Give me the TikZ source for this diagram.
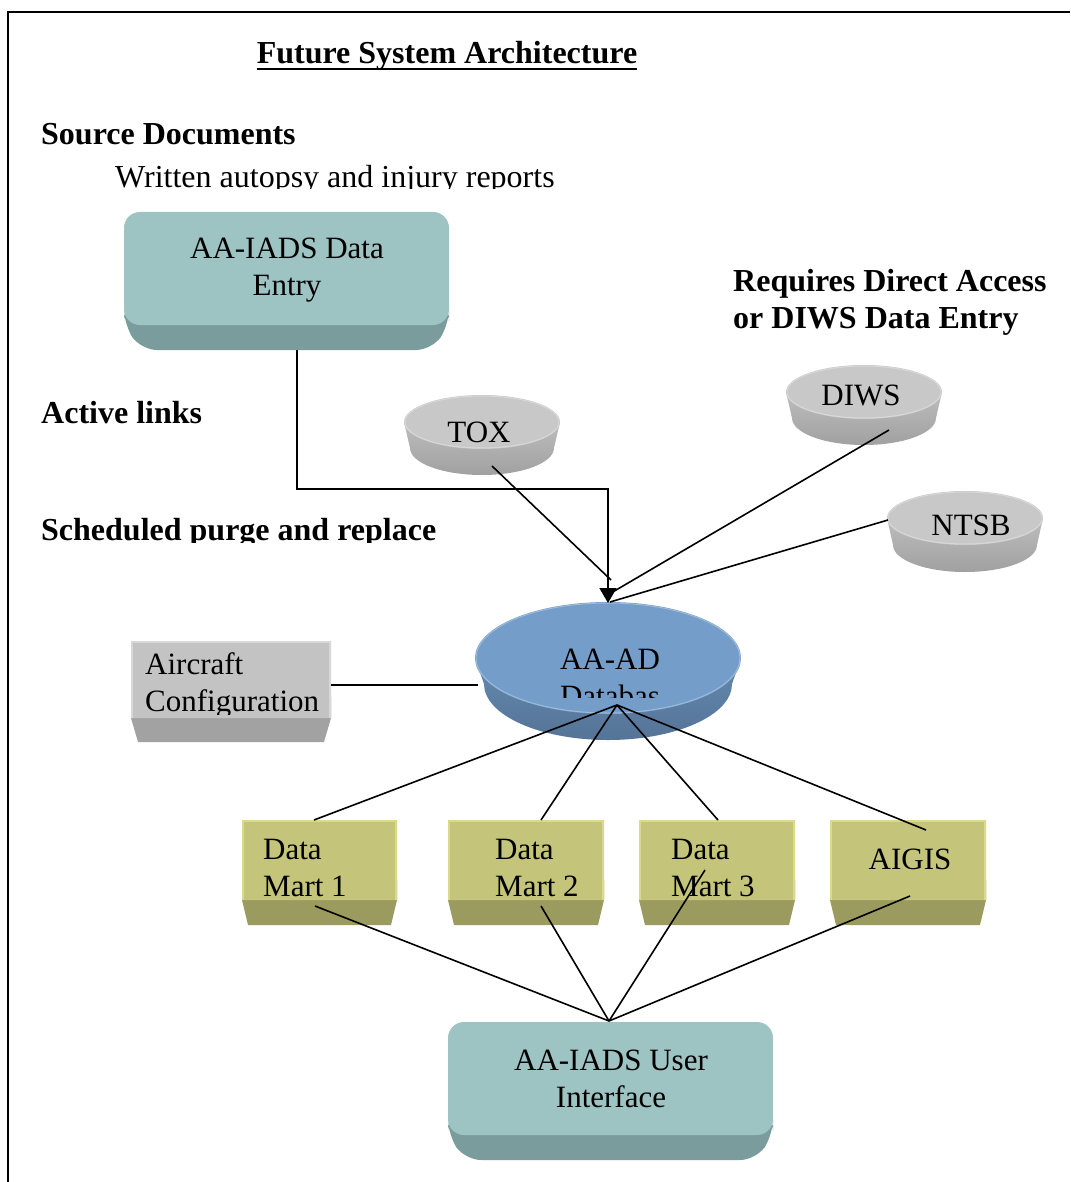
\documentclass[tikz,border=0pt]{standalone}
\usepackage{fontspec}
\setmainfont{Liberation Serif}
\usetikzlibrary{arrows.meta}
\definecolor{tealtop}{HTML}{9DC3C3}
\definecolor{tealside}{HTML}{7B9C9C}
\definecolor{oltop}{HTML}{C4C47A}
\definecolor{olside}{HTML}{9B9B5F}
\definecolor{olrim}{HTML}{DADA8C}
\definecolor{grtop}{HTML}{C3C3C3}
\definecolor{grrim}{HTML}{D8D8D8}
\definecolor{grside}{HTML}{A2A2A2}
\definecolor{cyltop}{HTML}{C8C8C8}
\definecolor{cylside}{HTML}{BDBDBD}
\definecolor{dbtop}{HTML}{749EC9}
\definecolor{dbside}{HTML}{6489B1}
% x1 y1 x2 y2 inset depth top side radius
\newcommand\slab[9]{%
  \fill[#8, rounded corners=#9] (#1,#4-20) -- (#3,#4-20) -- (#3,#4) -- (#3-#5,#4+#6) -- (#1+#5,#4+#6) -- (#1,#4) -- cycle;
  \fill[#7, rounded corners=#9] (#1,#2) rectangle (#3,#4);}
% cx cy rx ry d rx2 top side
\newcommand\cyl[8]{%
  \shade[top color=#8, bottom color=#8!85!black] (#1-#3,#2) -- (#1-#6,#2+#5) arc[start angle=180,end angle=0,x radius=#6,y radius=#4] -- (#1+#3,#2) -- cycle;
  \fill[#7] (#1,#2) ellipse[x radius=#3, y radius=#4];
  \draw[#7!70!white, line width=1] (#1,#2) ellipse[x radius=#3-1, y radius=#4-1];}
\begin{document}
\begin{tikzpicture}[x=1pt,y=-1pt,
  hd/.style={font=\bfseries\fontsize{32}{37}\selectfont, inner sep=0pt, anchor=base west},
  bodytxt/.style={font=\fontsize{31}{37}\selectfont, inner sep=0pt},
  conn/.style={line width=1.6pt, black},
  arr/.style={-{Triangle[length=15pt,width=17pt]}}]
\useasboundingbox (0,0) rectangle (1070,1182);
\fill[white] (0,0) rectangle (1070,1182);
% frame
\draw[line width=2pt] (8,1182) -- (8,12) -- (1070,12);

% headings
\node[hd, anchor=base] (title) at (447,64) {Future System Architecture};
\draw[line width=2.5pt] ([yshift=-5pt]title.base west) -- ([yshift=-5pt]title.base east);
\node[hd] (srcdoc) at (41,145) {Source Documents};
\begin{scope}
  \clip (100,150) rectangle (600,189);
  \node[bodytxt, font=\fontsize{32}{37}\selectfont, anchor=base west] (written) at (115,188) {Written autopsy and injury reports};
\end{scope}
\node[hd] (active) at (41,423) {Active links};
\begin{scope}
  \clip (30,500) rectangle (460,542);
  \node[hd] (sched) at (41,540) {Scheduled purge and replace};
\end{scope}
\node[hd, align=left, anchor=west] (requires) at (733,302) {Requires Direct Access\\or DIWS Data Entry};

% boxes
\slab{124}{212}{449}{325}{17}{25}{tealtop}{tealside}{16}
\node[bodytxt, align=center] (entry) at (287,270) {AA-IADS Data\\Entry};

\slab{448}{1022}{773}{1135}{17}{25}{tealtop}{tealside}{16}
\node[bodytxt, align=center] (ui) at (611,1079) {AA-IADS User\\Interface};

\slab{131}{641}{331}{718}{7}{24}{grtop}{grside}{0.1}
\draw[grrim, line width=2pt] (132,718) -- (132,642) -- (330,642) -- (330,718);
\begin{scope}
  \clip (131,641) rectangle (331,714);
  \node[bodytxt, align=left, anchor=west] (aircraft) at (145,685) {Aircraft\\Configuration};
\end{scope}

\foreach \xa/\xb in {242/397, 448/604, 639/795, 830/986} {
  \slab{\xa}{820}{\xb}{900}{6}{25}{oltop}{olside}{0.1}
  \draw[olrim, line width=2pt] (\xa+1,900) -- (\xa+1,821) -- (\xb-1,821) -- (\xb-1,900);
}
\node[bodytxt, align=left, anchor=west] (dm1) at (263,868) {Data\\Mart 1};
\node[bodytxt, align=left, anchor=west] (dm2) at (495,868) {Data\\Mart 2};
\node[bodytxt, align=left, anchor=west] (dm3) at (671,868) {Data\\Mart 3};
\node[bodytxt] (aigis) at (910,859) {AIGIS};

% cylinders
\cyl{482}{422}{78}{27}{26}{72}{cyltop}{cylside}
\node[bodytxt] (tox) at (479,432) {TOX};
\cyl{864}{392}{78}{27}{26}{72}{cyltop}{cylside}
\node[bodytxt] (diws) at (861,395) {DIWS};
\cyl{965}{518}{78}{27}{27}{72}{cyltop}{cylside}
\node[bodytxt] (ntsb) at (971,525) {NTSB};

\cyl{608}{658}{133}{56}{26}{124}{dbtop}{dbside}
\begin{scope}
  \clip (540,600) rectangle (680,697);
  \node[bodytxt, align=center] (db) at (610,678) {AA-AD\\Databas};
\end{scope}

% connector points
\coordinate (entrybot) at (297,350);
\coordinate (elbow) at (608,489);
\coordinate (dbtopc) at (608,603);
\coordinate (toxp) at (492,466);
\coordinate (toxend) at (611,580);
\coordinate (diwsp) at (889,430);
\coordinate (diwsend) at (611,593);
\coordinate (ntsbp) at (888,520);
\coordinate (ntsbend) at (610,602);
\coordinate (acp) at (331,685);
\coordinate (dbleft) at (478,685);
\coordinate (hub) at (617,705);
\coordinate (dm1t) at (314,820);
\coordinate (dm2t) at (541,820);
\coordinate (dm3t) at (718,820);
\coordinate (aigt) at (926,830);
\coordinate (uitop) at (609,1021);
\coordinate (dm1b) at (315,906);
\coordinate (dm2b) at (541,906);
\coordinate (dm3b) at (705,870);
\coordinate (aigb) at (910,896);

% connectors
\draw[conn, arr] (entrybot) |- (elbow) -- (dbtopc);
\draw[conn] (toxp) -- (toxend);
\draw[conn] (diwsp) -- (diwsend);
\draw[conn] (ntsbp) -- (ntsbend);
\draw[conn] (acp) -- (dbleft);
\foreach \t in {dm1t, dm2t, dm3t, aigt} \draw[conn] (hub) -- (\t);
\foreach \t in {dm1b, dm2b, dm3b, aigb} \draw[conn] (\t) -- (uitop);
\end{tikzpicture}
\end{document}
